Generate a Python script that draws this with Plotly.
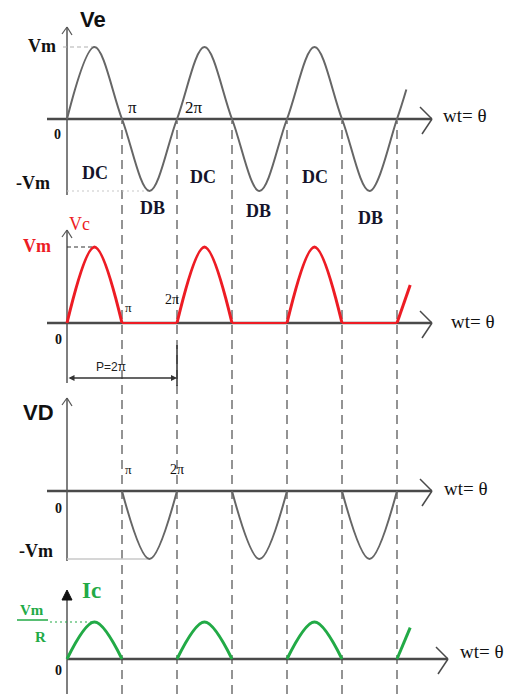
import plotly.graph_objects as go

W, H = 517, 694

# ---------------- data (theta in units of pi, values in units of Vm or Vm/R) -------------
ve_theta = [0, 0.5, 1, 1.5, 2, 2.5, 3, 3.5, 4, 4.5, 5, 5.5, 6, 6.17]
ve_vals = [0, 1, 0, -1, 0, 1, 0, -1, 0, 1, 0, -1, 0, 0.41]

pulse_theta = [0, 0.5, 1, None, 2, 2.5, 3, None, 4, 4.5, 5]
vc_vals = [0, 1, 0, None, 0, 1, 0, None, 0, 1, 0]
vc_flat_theta = [1, 2, None, 3, 4, None, 5, 6]
vc_flat_vals = [0, 0, None, 0, 0, None, 0, 0]
vc_tail_theta = [6, 6.24]
vc_tail_vals = [0, 0.5]

vd_theta = [1, 1.5, 2, None, 3, 3.5, 4, None, 5, 5.5, 6]
vd_vals = [0, -1, 0, None, 0, -1, 0, None, 0, -1, 0]

ic_vals = [0, 1, 0, None, 0, 1, 0, None, 0, 1, 0]
ic_tail_theta = [6, 6.24]
ic_tail_vals = [0, 0.85]

boundaries = [1, 2, 3, 4, 5, 6]          # k*pi dashed lines
vm_level = 1
period_span = [0, 2]                     # P = 2*pi

# ---------------- geometry ----------------
X0PX, PXU = 67, 55                       # pixel of theta=0, pixels per pi
xr = [-X0PX / PXU, (W - X0PX) / PXU]
# panel: (zero pixel row, pixels per unit)
panels = {"y": (119, 72), "y2": (323, 76), "y3": (491, 68), "y4": (659, 37)}


def yrange(z, s):
    return [-(H - z) / s, z / s]


def tx(px):
    return (px - X0PX) / PXU


def ty(py, ax):
    z, s = panels[ax]
    return (z - py) / s


GRAY = "#5a5a5a"
RED = "rgb(237,28,36)"
GREEN = "rgb(34,170,70)"
SERIF = "Liberation Serif"
SANS = "Liberation Sans"

fig = go.Figure()


def add(x, y, ax, color, width, shape="linear"):
    fig.add_trace(go.Scatter(x=x, y=y, yaxis=ax, mode="lines", hoverinfo="skip",
                             line=dict(color=color, width=width, shape=shape)))


add(ve_theta, ve_vals, "y", "#666666", 2, "spline")
add(vc_flat_theta, vc_flat_vals, "y2", RED, 2)
add(pulse_theta, vc_vals, "y2", RED, 3, "spline")
add(vc_tail_theta, vc_tail_vals, "y2", RED, 3)
add(vd_theta, vd_vals, "y3", "#666666", 2, "spline")
add(pulse_theta, ic_vals, "y4", GREEN, 3, "spline")
add(ic_tail_theta, ic_tail_vals, "y4", GREEN, 3)

shapes = []


def seg(x0, y0, x1, y1, ax, color=GRAY, width=2, dash="solid"):
    shapes.append(dict(type="line", xref="x", yref=ax, x0=x0, y0=y0, x1=x1, y1=y1,
                       line=dict(color=color, width=width, dash=dash), layer="below"))


# dashed boundaries across all panels
for b in boundaries:
    shapes.append(dict(type="line", xref="x", yref="paper", x0=b, x1=b,
                       y0=0, y1=1 - 121 / H, layer="below",
                       line=dict(color="#707070", width=1.5, dash="9px,6px")))

# horizontal axes with open chevrons
for ax, xs, xe in [("y", 47, 432), ("y2", 47, 432), ("y3", 47, 432), ("y4", 67, 448)]:
    seg(tx(xs), 0, tx(xe), 0, ax, "#4a4a4a", 2.5)
    z, s = panels[ax]
    seg(tx(xe - 12), 12 / s, tx(xe), 0, ax, "#4a4a4a", 1.5)
    seg(tx(xe - 10), -15 / s, tx(xe), 0, ax, "#4a4a4a", 1.5)

# vertical axes
for ax, top, bot in [("y", 27, 195), ("y2", 230, 383), ("y3", 398, 561), ("y4", 592, 694)]:
    seg(0, ty(top, ax), 0, ty(bot, ax), ax, "#555555", 1.5)
    if ax != "y4":
        seg(tx(62), ty(top + 7, ax), 0, ty(top, ax), ax, "#555555", 1.2)
        seg(tx(72), ty(top + 8, ax), 0, ty(top, ax), ax, "#555555", 1.2)

# filled arrowhead for Ic axis
shapes.append(dict(type="path", xref="paper", yref="paper",
                   path=f"M {62/W} {1-600/H} L {67/W} {1-590/H} L {72/W} {1-600/H} Z",
                   fillcolor="#111111", line=dict(color="#111111", width=1)))

# guide lines to Vm / -Vm
seg(tx(63), vm_level, 0.5, vm_level, "y", "#b0b0b0", 1.2, "4px,3px")
seg(0, -vm_level, 1.5, -vm_level, "y", "#c8c8c8", 1.2, "2px,3px")
seg(0, vm_level, 0.5, vm_level, "y2", "#333333", 1.2, "4px,3px")
seg(0, -vm_level, 1.5, -vm_level, "y3", "#c8c8c8", 1.5)
seg(tx(50), vm_level, 0.5, vm_level, "y4", GREEN, 1.2, "2px,3px")

# P = 2pi marker
seg(period_span[1], ty(345, "y2"), period_span[1], ty(386, "y2"), "y2", "#333333", 1.5)

# fraction bar Vm/R
shapes.append(dict(type="line", xref="paper", yref="paper", x0=17 / W, x1=48 / W,
                   y0=1 - 620 / H, y1=1 - 620 / H, line=dict(color=GREEN, width=1.5)))

annotations = []


def lab(text, px, py, size=18, color="#111111", family=SERIF, bold=False):
    t = f"<b>{text}</b>" if bold else text
    annotations.append(dict(text=t, x=px / W, y=1 - py / H, xref="paper", yref="paper",
                            xanchor="center", yanchor="middle", showarrow=False,
                            font=dict(size=size, color=color, family=family)))


# panel 1
lab("Ve", 93, 19, 22, family=SANS, bold=True)
lab("Vm", 42, 46, 18, bold=True)
lab("0", 57, 134, 14, bold=True)
lab("-Vm", 33, 183, 18, bold=True)
lab("π", 132, 107, 17)
lab("2π", 194, 107, 17)
for t, x, y in [("DC", 95, 173), ("DB", 152, 208), ("DC", 203, 177),
                ("DB", 258, 211), ("DC", 315, 177), ("DB", 370, 218)]:
    lab(t, x, y, 18, "#14142a", bold=True)
lab("wt= θ", 465, 115, 19)

# panel 2
lab("Vc", 79, 224, 18, RED)
lab("Vm", 37, 246, 18, RED, bold=True)
lab("π", 128, 307, 13)
lab("2π", 172, 299, 14)
lab("0", 58, 340, 14, bold=True)
lab("P=2π", 111, 367, 12, "#222222", SANS)
lab("wt= θ", 473, 322, 19)
annotations.append(dict(x=period_span[1], y=ty(378, "y2"), ax=period_span[0], ay=ty(378, "y2"),
                        xref="x", yref="y2", axref="x", ayref="y2", text="", showarrow=True,
                        arrowside="end+start", arrowhead=2, arrowsize=0.8, arrowwidth=1.5,
                        arrowcolor="#333333"))

# panel 3
lab("VD", 38, 412, 22, family=SANS, bold=True)
lab("π", 128, 469, 13)
lab("2π", 177, 469, 14)
lab("0", 58, 508, 14, bold=True)
lab("-Vm", 36, 551, 18, bold=True)
lab("wt= θ", 466, 488, 19)

# panel 4
lab("Ic", 91, 590, 23, GREEN, bold=True)
lab("Vm", 32, 610, 15, GREEN, bold=True)
lab("R", 40, 637, 15, GREEN, bold=True)
lab("0", 58, 670, 14, bold=True)
lab("wt= θ", 482, 651, 19)

layout = dict(
    width=W, height=H, margin=dict(l=0, r=0, t=0, b=0),
    paper_bgcolor="white", plot_bgcolor="white", showlegend=False,
    xaxis=dict(range=xr, visible=False, fixedrange=True),
    shapes=shapes, annotations=annotations,
)
for i, (ax, (z, s)) in enumerate(panels.items()):
    key = "yaxis" if ax == "y" else "yaxis" + ax[1:]
    d = dict(range=yrange(z, s), visible=False, fixedrange=True)
    if ax != "y":
        d["overlaying"] = "y"
    layout[key] = d

fig.update_layout(**layout)
fig.write_html("out.html", config={"displayModeBar": False},
               post_script="document.body.style.margin='0';document.body.style.overflow='hidden';")
